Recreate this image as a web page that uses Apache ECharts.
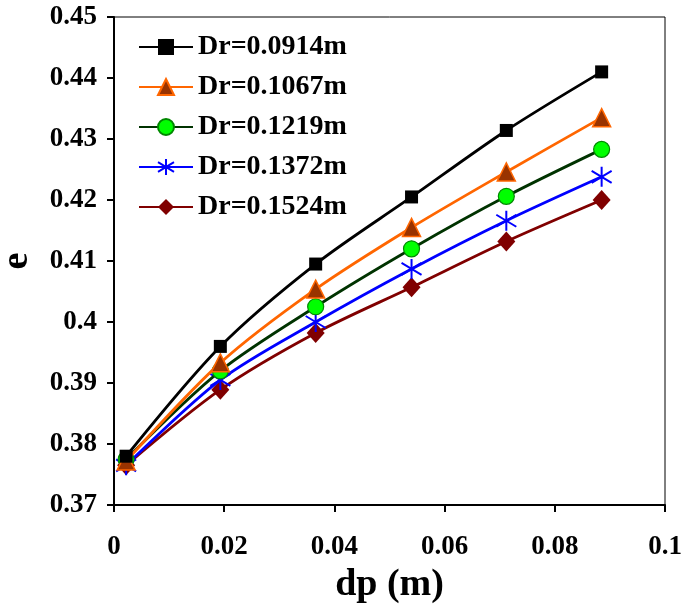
<!DOCTYPE html>
<html>
<head>
<meta charset="utf-8">
<script src="https://cdn.jsdelivr.net/npm/echarts@6/dist/echarts.min.js"></script>
<style>
html,body{margin:0;padding:0;background:#fff;}
#chart{width:684px;height:606px;}
</style>
</head>
<body>
<div id="chart"></div>
<script>
// Data
const dp = [0.0022, 0.0193, 0.0366, 0.0540, 0.0712, 0.0885];
const seriesNames = ['Dr=0.0914m', 'Dr=0.1067m', 'Dr=0.1219m', 'Dr=0.1372m', 'Dr=0.1524m'];
const e_0914 = [0.3780, 0.3960, 0.4095, 0.4205, 0.4314, 0.4410];
const e_1067 = [0.3772, 0.3933, 0.4054, 0.4155, 0.4246, 0.4335];
const e_1219 = [0.3775, 0.3920, 0.4025, 0.4120, 0.4206, 0.4283];
const e_1372 = [0.3765, 0.3905, 0.4000, 0.4087, 0.4166, 0.4238];
const e_1524 = [0.3765, 0.3889, 0.3982, 0.4057, 0.4132, 0.4200];
const xTicks = [0, 0.02, 0.04, 0.06, 0.08, 0.1];
const yTicks = [0.37, 0.38, 0.39, 0.40, 0.41, 0.42, 0.43, 0.44, 0.45];

const FONT = '"Liberation Serif", "Times New Roman", serif';
const pair = vals => dp.map((x, i) => [x, vals[i]]);

const styles = [
  {symbol: 'rect', size: 13, line: '#000000', fill: '#000000', border: '#000000', bw: 0},
  {symbol: 'triangle', size: 18, line: '#FF6600', fill: '#993300', border: '#FF6600', bw: 1.5},
  {symbol: 'circle', size: 16, line: '#003300', fill: '#00FF00', border: '#008800', bw: 1.2},
  {symbol: 'path://M0,-10L0,10M-9,-6L9,6M-9,6L9,-6', size: 20, line: '#0000FF', fill: 'none', border: '#0000FF', bw: 2},
  {symbol: 'diamond', size: [18, 20], line: '#800000', fill: '#800000', border: '#800000', bw: 0}
];
const values = [e_0914, e_1067, e_1219, e_1372, e_1524];

const series = values.map((v, i) => ({
  name: seriesNames[i],
  type: 'line',
  data: pair(v),
  smooth: 0.3,
  symbol: styles[i].symbol,
  symbolSize: styles[i].size,
  showAllSymbol: true,
  z: 10 - i,
  lineStyle: {color: styles[i].line, width: 2.8},
  itemStyle: {color: styles[i].fill, borderColor: styles[i].border, borderWidth: styles[i].bw},
  emphasis: {disabled: true}
}));

const chart = echarts.init(document.getElementById('chart'), null, {renderer: 'canvas'});
chart.setOption({
  animation: false,
  backgroundColor: '#ffffff',
  grid: {left: 114, top: 17, width: 551, height: 488, outerBoundsMode: 'none', containLabel: false,
    show: true, borderColor: '#000', borderWidth: 1, backgroundColor: 'transparent'},
  legend: {
    orient: 'vertical',
    left: 133,
    top: 28,
    itemWidth: 54,
    itemHeight: 20,
    itemGap: 12,
    selectedMode: false,
    textStyle: {fontFamily: FONT, fontWeight: 'bold', fontSize: 28, color: '#000', lineHeight: 28},
    data: seriesNames
  },
  xAxis: {
    type: 'value',
    min: 0, max: 0.1, interval: 0.02,
    name: 'dp (m)',
    nameLocation: 'middle',
    nameGap: 56,
    nameTextStyle: {fontFamily: FONT, fontWeight: 'bold', fontSize: 38, color: '#000'},
    axisLine: {show: true, onZero: false, lineStyle: {color: '#000', width: 2}},
    axisTick: {show: true, inside: false, length: 7, lineStyle: {color: '#000', width: 2}},
    axisLabel: {fontFamily: FONT, fontWeight: 'bold', fontSize: 27, color: '#000', margin: 29,
      formatter: v => { const t = xTicks.find(k => Math.abs(k - v) < 1e-9); return t === undefined ? '' : String(t); }},
    splitLine: {show: false}
  },
  yAxis: {
    type: 'value',
    min: 0.37, max: 0.45, interval: 0.01,
    name: 'e',
    nameLocation: 'middle',
    nameGap: 78,
    nameRotate: 90,
    nameTextStyle: {fontFamily: FONT, fontWeight: 'bold', fontSize: 38, color: '#000'},
    axisLine: {show: true, onZero: false, lineStyle: {color: '#000', width: 2}},
    axisTick: {show: true, inside: false, length: 7, lineStyle: {color: '#000', width: 2}},
    axisLabel: {fontFamily: FONT, fontWeight: 'bold', fontSize: 27, color: '#000', margin: 17,
      formatter: v => { const t = yTicks.find(k => Math.abs(k - v) < 1e-9); return t === undefined ? '' : String(t); }},
    splitLine: {show: false}
  },
  series: series
});
</script>
</body>
</html>
